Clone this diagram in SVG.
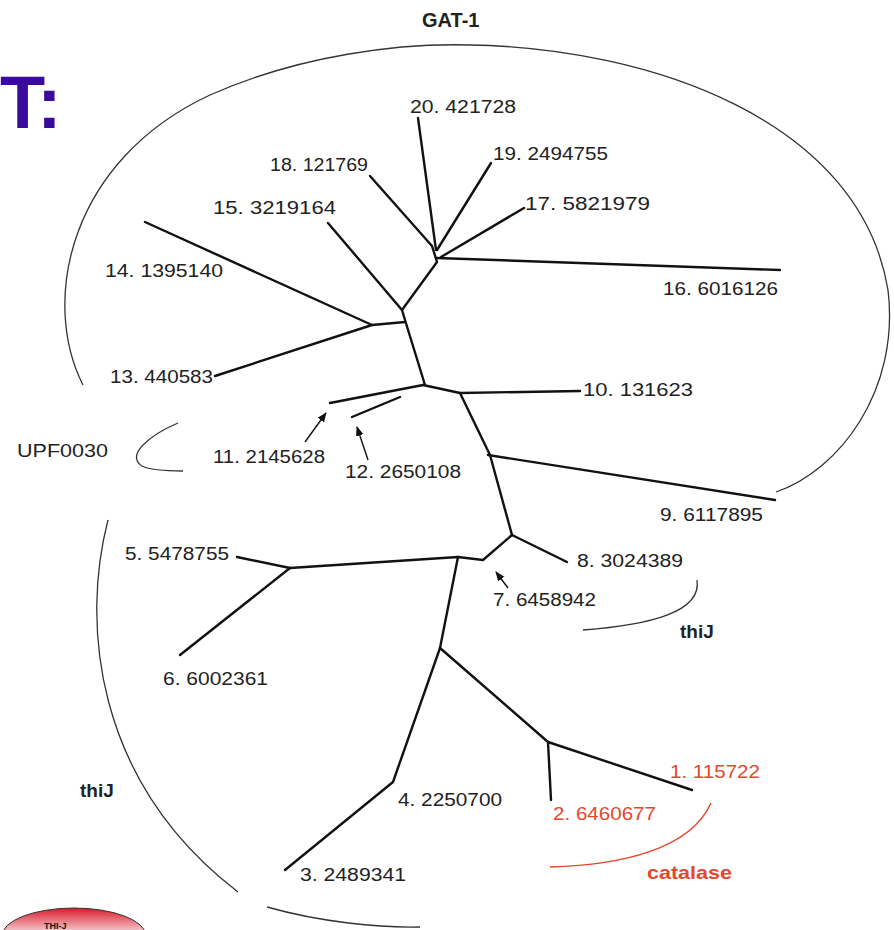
<svg xmlns="http://www.w3.org/2000/svg" width="894" height="930" viewBox="0 0 894 930">
<defs>
<style>
.lbl{font-family:"Liberation Sans",Arial,sans-serif;font-size:18px;fill:#222}
.red{fill:#e4472c}
.bold{font-weight:bold}
.edge{stroke:#111;stroke-width:2.4;fill:none;stroke-linecap:round;stroke-linejoin:round}
.arc{stroke:#333;stroke-width:1.3;fill:none}
.arr{stroke:#111;stroke-width:1.4;fill:none}
</style>
<marker id="ah" viewBox="0 0 10 10" refX="9" refY="5" markerWidth="7" markerHeight="7" orient="auto">
<path d="M0,1 L10,5 L0,9 Z" fill="#111"/>
</marker>
<linearGradient id="rg" x1="0" y1="0" x2="0" y2="1">
<stop offset="0" stop-color="#d81a2a"/>
<stop offset="0.55" stop-color="#ffffff"/>
</linearGradient>
</defs>
<rect width="894" height="930" fill="#fff"/>

<text x="0" y="128" style="font-family:'Liberation Sans',Arial,sans-serif;font-size:74px;font-weight:bold;fill:#3a0a9c">T:</text>

<g id="arcs">
<path class="arc" d="M83,385 C40,300 70,160 210,95 C300,55 400,43 470,45 C650,48 860,120 888,290 C900,390 840,470 776,492"/>
<path class="arc" d="M108,520 C82,620 92,780 238,892"/>
<path class="arc" d="M267,907 C320,922 380,928 420,927"/>
<path class="arc" d="M178,423 C150,435 125,455 142,466 C152,471 170,471 183,471"/>
<path class="arc" d="M697,580 C702,612 650,625 583,630"/>
<path d="M711,803 C690,850 620,865 550,867" fill="none" stroke="#e4472c" stroke-width="1.5"/>
</g>

<g id="connectors">
<polyline class="edge" points="418,118 436,250"/>
<polyline class="edge" points="370,176 432,246"/>
<polyline class="edge" points="491,163 437,250"/>
<polyline class="edge" points="524,208 441,257"/>
<polyline class="edge" points="437,258 780,270"/>
<polyline class="edge" points="432,246 437,262 402,310 405,320 425,385"/>
<polyline class="edge" points="328,223 402,310"/>
<polyline class="edge" points="145,222 372,325 405,322"/>
<polyline class="edge" points="215,376 372,325"/>
<polyline class="edge" points="330,403 423,385"/>
<polyline class="edge" points="352,417 400,397"/>
<polyline class="edge" points="423,385 460,393 580,391"/>
<polyline class="edge" points="460,393 490,455 512,535"/>
<polyline class="edge" points="488,455 775,500"/>
<polyline class="edge" points="512,535 567,562"/>
<polyline class="edge" points="512,535 483,560 458,557 290,568"/>
<polyline class="edge" points="237,557 290,568"/>
<polyline class="edge" points="180,655 290,568"/>
<polyline class="edge" points="458,557 440,648 393,782 285,870"/>
<polyline class="edge" points="440,648 548,742 692,790"/>
<polyline class="edge" points="548,742 551,800"/>
<line class="arr" x1="305" y1="442" x2="326" y2="413" marker-end="url(#ah)"/>
<line class="arr" x1="368" y1="460" x2="357" y2="427" marker-end="url(#ah)"/>
<line class="arr" x1="508" y1="588" x2="496" y2="572" marker-end="url(#ah)"/>
</g>

<g id="labels">
<text class="lbl bold" x="422" y="27" style="font-size:20px">GAT-1</text>
<g id="n20"><text class="lbl" x="410" y="113" textLength="106" lengthAdjust="spacingAndGlyphs">20. 421728</text></g>
<g id="n19"><text class="lbl" x="493" y="160" textLength="115" lengthAdjust="spacingAndGlyphs">19. 2494755</text></g>
<g id="n18"><text class="lbl" x="270" y="171" textLength="98" lengthAdjust="spacingAndGlyphs">18. 121769</text></g>
<g id="n17"><text class="lbl" x="525" y="210" textLength="125" lengthAdjust="spacingAndGlyphs">17. 5821979</text></g>
<g id="n15"><text class="lbl" x="213" y="214" textLength="123" lengthAdjust="spacingAndGlyphs">15. 3219164</text></g>
<g id="n14"><text class="lbl" x="105" y="277" textLength="118" lengthAdjust="spacingAndGlyphs">14. 1395140</text></g>
<g id="n16"><text class="lbl" x="663" y="295" textLength="115" lengthAdjust="spacingAndGlyphs">16. 6016126</text></g>
<g id="n13"><text class="lbl" x="110" y="383" textLength="103" lengthAdjust="spacingAndGlyphs">13. 440583</text></g>
<g id="n10"><text class="lbl" x="583" y="396" textLength="110" lengthAdjust="spacingAndGlyphs">10. 131623</text></g>
<g id="upf"><text class="lbl" x="17" y="457" textLength="91" lengthAdjust="spacingAndGlyphs">UPF0030</text></g>
<g id="n11"><text class="lbl" x="213" y="463" textLength="112" lengthAdjust="spacingAndGlyphs">11. 2145628</text></g>
<g id="n12"><text class="lbl" x="345" y="478" textLength="116" lengthAdjust="spacingAndGlyphs">12. 2650108</text></g>
<g id="n9"><text class="lbl" x="660" y="521" textLength="103" lengthAdjust="spacingAndGlyphs">9. 6117895</text></g>
<g id="n5"><text class="lbl" x="125" y="560" textLength="104" lengthAdjust="spacingAndGlyphs">5. 5478755</text></g>
<g id="n8"><text class="lbl" x="577" y="567" textLength="106" lengthAdjust="spacingAndGlyphs">8. 3024389</text></g>
<g id="n7"><text class="lbl" x="493" y="606" textLength="103" lengthAdjust="spacingAndGlyphs">7. 6458942</text></g>
<g id="thij1"><text class="lbl bold" x="680" y="638" style="font-size:19px">thiJ</text></g>
<g id="n6"><text class="lbl" x="163" y="685" textLength="105" lengthAdjust="spacingAndGlyphs">6. 6002361</text></g>
<g id="n1"><text class="lbl red" x="670" y="778" textLength="90" lengthAdjust="spacingAndGlyphs">1. 115722</text></g>
<g id="thij2"><text class="lbl bold" x="80" y="797" style="font-size:19px">thiJ</text></g>
<g id="n4"><text class="lbl" x="398" y="806" textLength="104" lengthAdjust="spacingAndGlyphs">4. 2250700</text></g>
<g id="n2"><text class="lbl red" x="553" y="820" textLength="103" lengthAdjust="spacingAndGlyphs">2. 6460677</text></g>
<g id="cat"><text class="lbl red bold" x="647" y="879" style="font-size:19px" textLength="85" lengthAdjust="spacingAndGlyphs">catalase</text></g>
<g id="n3"><text class="lbl" x="300" y="881" textLength="106" lengthAdjust="spacingAndGlyphs">3. 2489341</text></g>
</g>

<g id="thi-badge">
<ellipse cx="74" cy="936" rx="72" ry="28" fill="url(#rg)" stroke="#333" stroke-width="1"/>
<text x="44" y="929" style="font-family:'Liberation Sans',Arial,sans-serif;font-size:9px;font-weight:bold;fill:#111">THI-J</text>
</g>
</svg>
